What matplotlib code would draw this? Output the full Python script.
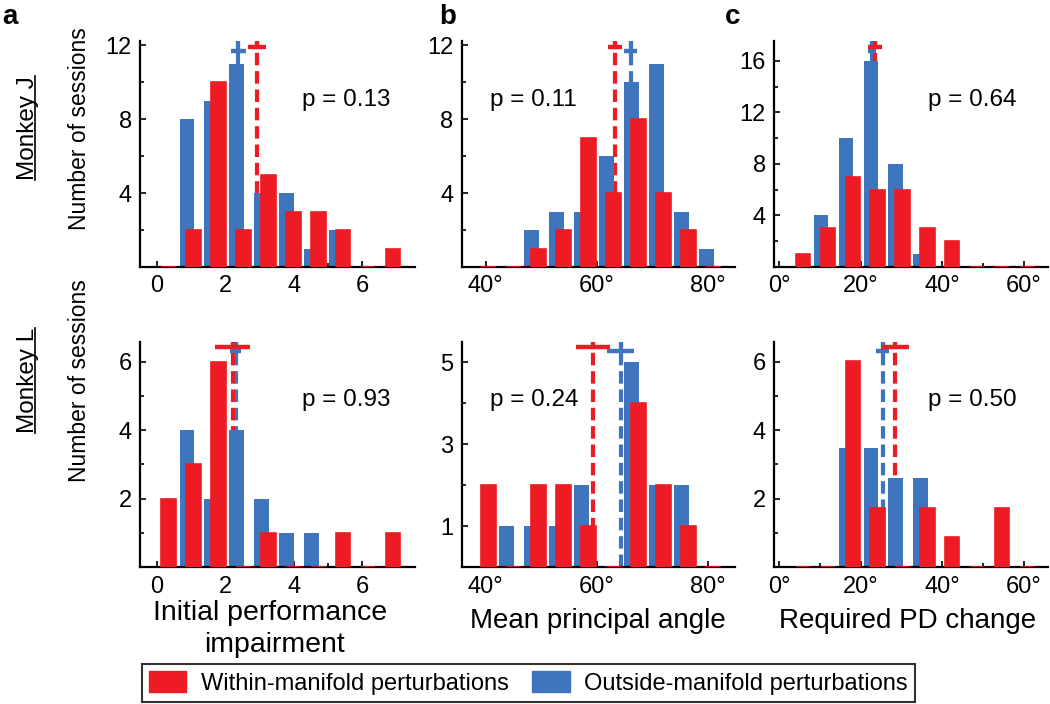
import matplotlib
matplotlib.use("Agg")
import matplotlib.pyplot as plt
from matplotlib.patches import Patch
from matplotlib.lines import Line2D

plt.rcParams["font.family"] = ["Liberation Sans", "DejaVu Sans"]

RED = "#ED1C24"
BLUE = "#3E75BC"

# bin centres
impair_bins = [0.24, 0.97, 1.70, 2.43, 3.16, 3.89, 4.62, 5.35, 6.08, 6.81]
angle_bins = [39.9, 44.4, 48.9, 53.4, 57.9, 62.4, 66.9, 71.4, 75.9, 80.4]
pd_bins = [5.0, 11.1, 17.2, 23.3, 29.4, 35.5, 41.6, 47.7, 53.8, 59.9]

# Monkey J (sessions per bin)
j_impair_within = [0, 2, 10, 2, 5, 3, 3, 2, 0, 1]
j_impair_outside = [0, 8, 9, 11, 4, 4, 1, 2, 0, 0]
j_angle_within = [0, 0, 1, 2, 7, 4, 8, 4, 2, 0]
j_angle_outside = [0, 0, 2, 3, 3, 6, 10, 11, 3, 1]
j_pd_within = [1, 3, 7, 6, 6, 3, 2, 0, 0, 0]
j_pd_outside = [0, 4, 10, 16, 8, 1, 0, 0, 0, 0]

# Monkey L
l_impair_within = [2, 3, 6, 0, 1, 0, 0, 1, 0, 1]
l_impair_outside = [0, 4, 2, 4, 2, 1, 1, 0, 0, 0]
l_angle_within = [2, 0, 2, 2, 1, 0, 4, 2, 1, 0]
l_angle_outside = [0, 1, 1, 1, 2, 0, 5, 2, 2, 0]
l_pd_within = [0, 0, 6.02, 1.74, 0, 1.74, 0.87, 0, 1.74, 0]
l_pd_outside = [0, 0, 3.47, 3.47, 2.6, 2.6, 0, 0, 0, 0]

# means and s.e.m. (within, outside)
j_means = [(2.92, 0.27, 2.38, 0.21), (63.35, 1.25, 66.1, 1.2), (23.4, 1.7, 22.7, 0.95)]
l_means = [(2.22, 0.51, 2.30, 0.15), (59.35, 3.05, 64.3, 2.5), (28.3, 3.45, 25.45, 1.6)]

p_j = ["p = 0.13", "p = 0.11", "p = 0.64"]
p_l = ["p = 0.93", "p = 0.24", "p = 0.50"]
p_xpos = [0.588, 0.104, 0.562]

xticks = [[0, 2, 4, 6], [40, 60, 80], [0, 20, 40, 60]]
xminor = [[1, 3, 5, 7], [50, 70], [10, 30, 50]]
xticklabels = [["0", "2", "4", "6"], ["40°", "60°", "80°"], ["0°", "20°", "40°", "60°"]]
xlims = [(-0.5, 7.55), (35.7, 84.9), (-1.2, 66.0)]

j_yticks = [[4, 8, 12], [4, 8, 12], [4, 8, 12, 16]]
j_yminor = [[2, 6, 10], [2, 6, 10], [2, 6, 10, 14]]
j_ylims = [12.2, 12.2, 17.5]
l_yticks = [[2, 4, 6], [1, 3, 5], [2, 4, 6]]
l_yminor = [[1, 3, 5], [2, 4], [1, 3, 5]]
l_ylims = [6.58, 5.5, 6.58]

bins = [impair_bins, angle_bins, pd_bins]
j_within = [j_impair_within, j_angle_within, j_pd_within]
j_outside = [j_impair_outside, j_angle_outside, j_pd_outside]
l_within = [l_impair_within, l_angle_within, l_pd_within]
l_outside = [l_impair_outside, l_angle_outside, l_pd_outside]

fig = plt.figure(figsize=(10.5, 7.04), dpi=100)

lefts = [0.1333, 0.4397, 0.7374]
widths = [0.2619, 0.2603, 0.2610]
bottoms = [0.6207, 0.1942]
height = 0.3205


def draw_panel(ax, centres, within, outside, stats, ylim_top, col):
    step = centres[1] - centres[0]
    off = 0.137 * step
    w = 0.58 * step
    xb = [c - off for c in centres]
    xr = [c + off for c in centres]
    ax.bar(xb, outside, width=w, color=BLUE, lw=0, zorder=3)
    ax.bar(xr, within, width=w, color=RED, edgecolor=RED, lw=1.2, zorder=4)

    m_in, s_in, m_out, s_out = stats
    for m, s, c, frac in [(m_out, s_out, BLUE, 0.958), (m_in, s_in, RED, 0.977)]:
        ax.plot([m, m], [0, ylim_top], color=c, lw=3, ls=(0, (3, 1.4)), zorder=2)
        ax.plot([m, m], [ylim_top * frac, ylim_top], color=c, lw=3, zorder=5)
        ax.plot([m - s, m + s], [ylim_top * frac, ylim_top * frac], color=c, lw=3.2,
                solid_capstyle="butt", zorder=5)

    ax.set_xlim(*xlims[col])
    ax.set_ylim(0, ylim_top)
    ax.spines["top"].set_visible(False)
    ax.spines["right"].set_visible(False)
    for sp in ["left", "bottom"]:
        ax.spines[sp].set_linewidth(1.6)
        ax.spines[sp].set_zorder(3.5)
    ax.set_xticks(xticks[col])
    ax.set_xticks(xminor[col], minor=True)
    ax.set_xticklabels(xticklabels[col])
    ax.tick_params(which="both", direction="in", width=1.2, labelsize=17, pad=6)
    ax.tick_params(which="major", length=4)
    ax.tick_params(which="minor", length=3)


for col in range(3):
    ax = fig.add_axes([lefts[col], bottoms[0], widths[col], height])
    draw_panel(ax, bins[col], j_within[col], j_outside[col], j_means[col], j_ylims[col], col)
    ax.set_yticks(j_yticks[col])
    ax.set_yticks(j_yminor[col], minor=True)
    ax.text(p_xpos[col], 0.742, p_j[col], transform=ax.transAxes,
            fontsize=17.5, va="center", ha="left")

    ax = fig.add_axes([lefts[col], bottoms[1], widths[col], height])
    draw_panel(ax, bins[col], l_within[col], l_outside[col], l_means[col], l_ylims[col], col)
    ax.set_yticks(l_yticks[col])
    ax.set_yticks(l_yminor[col], minor=True)
    ax.text(p_xpos[col], 0.742, p_l[col], transform=ax.transAxes,
            fontsize=17.5, va="center", ha="left")

# panel letters
for x, lab in [(0.002, "a"), (0.418, "b"), (0.690, "c")]:
    fig.text(x, 0.995, lab, fontsize=20, fontweight="bold", va="top", ha="left")

# row labels, monkey names underlined by hand
monkey_texts = []
for y, monkey in [(0.818, "J"), (0.459, "L")]:
    t = fig.text(0.027, y, "Monkey " + monkey, rotation=90, fontsize=17.5,
                 va="center", ha="center")
    monkey_texts.append(t)
    fig.text(0.076, y, "Number of sessions", rotation=90, fontsize=16.5,
             va="center", ha="center")

fig.canvas.draw()
inv = fig.transFigure.inverted()
for t in monkey_texts:
    bb = t.get_window_extent()
    (x0, y0), (x1, y1) = inv.transform([[bb.x0, bb.y0], [bb.x1, bb.y1]])
    ux = x1 - 0.0045
    fig.add_artist(Line2D([ux, ux], [y0, y1], transform=fig.transFigure,
                          color="black", lw=1.2))

# x labels
fig.text(0.2576, 0.1193, "Initial performance", fontsize=20.5, ha="center", va="baseline")
fig.text(0.2610, 0.0743, "impairment", fontsize=20.5, ha="center", va="baseline")
fig.text(0.5697, 0.1075, "Mean principal angle", fontsize=20, ha="center", va="baseline")
fig.text(0.8640, 0.1075, "Required PD change", fontsize=20, ha="center", va="baseline")

handles = [Patch(facecolor=RED, edgecolor=RED, label="Within-manifold perturbations"),
           Patch(facecolor=BLUE, edgecolor=BLUE, label="Outside-manifold perturbations")]
leg = fig.legend(handles=handles, ncol=2, loc="center", bbox_to_anchor=(0.503, 0.0298),
                 frameon=True, fancybox=False, edgecolor="black",
                 prop={"size": 17}, handlelength=1.6, handleheight=0.95,
                 columnspacing=1.0, borderpad=0.3, handletextpad=0.6)
leg.get_frame().set_linewidth(1.5)

fig.savefig("out.png", dpi=100)
